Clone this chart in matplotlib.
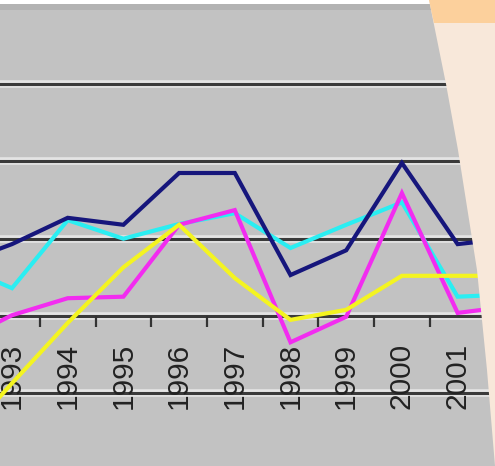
import numpy as np
import matplotlib
matplotlib.use('Agg')
from matplotlib import pyplot as plt
from matplotlib.patches import Polygon

years = [1992, 1993, 1994, 1995, 1996, 1997, 1998, 1999, 2000, 2001, 2002]
tick_years = [1993, 1994, 1995, 1996, 1997, 1998, 1999, 2000, 2001]

navy = [6.6, 9.3, 12.7, 11.8, 18.5, 18.5, 5.3, 8.5, 19.8, 9.3, 10.1]
cyan = [6.7, 3.6, 12.4, 10.0, 11.9, 13.3, 8.8, 11.8, 14.7, 2.5, 2.8]
magenta = [-3.5, 0.1, 2.3, 2.5, 11.8, 13.7, -3.4, -0.1, 15.9, 0.4, 1.3]
yellow = [-16.7, -8.7, -0.9, 6.3, 11.8, 4.9, -0.5, 0.8, 5.2, 5.2, 5.2]

W, H = 495, 466
fig = plt.figure(figsize=(W / 100, H / 100), dpi=100)
fig.patch.set_facecolor('white')
ax = fig.add_axes([0, 0, 1, 1])
ax.set_facecolor('#c2c2c2')
for s in ax.spines.values():
    s.set_visible(False)
ax.set_xticks([])
ax.set_yticks([])

# value axis: 10 units per gridline, 77.3 px apart, zero line at 316 px
ppu = 7.73
ax.set_ylim((316 - H) / ppu, 316 / ppu)
# category axis: 55.7 px per year, 1993 at 12 px
ax.set_xlim(1993 - 12 / 55.7, 1993 + (W - 12) / 55.7)

for g in [-10, 0, 10, 20, 30]:
    ax.axhline(g, color='#e4e4e4', lw=5.5, zorder=1)
    ax.axhline(g, color='#3a3a3a', lw=2.2, zorder=2)

# tick marks between categories
ax.vlines(np.array(tick_years[:-1]) + 0.5, -1.4, 0, color='#333333', lw=1.6, zorder=2)

for yr in tick_years:
    ax.text(yr, -3.5, str(yr), rotation=90, ha='center', va='top',
            fontsize=21.5, family='Liberation Sans', color='#222222', zorder=3)

ax.plot(years, navy, color='#16167c', lw=3, zorder=5, solid_joinstyle='miter')
ax.plot(years, cyan, color='#2aeef2', lw=3, zorder=4, solid_joinstyle='miter')
ax.plot(years, magenta, color='#f22cf0', lw=3, zorder=4, solid_joinstyle='miter')
ax.plot(years, yellow, color='#f4f420', lw=3, zorder=4, solid_joinstyle='miter')


def px(points):
    return [(x / W, 1 - y / H) for x, y in points]


# white strip and shadow along the top edge
fig.add_artist(Polygon(px([(0, 0), (W, 0), (W, 4), (0, 4)]), closed=True,
                       transform=fig.transFigure, facecolor='white', edgecolor='none'))
fig.add_artist(Polygon(px([(0, 4), (W, 4), (W, 10), (0, 10)]), closed=True,
                       transform=fig.transFigure, facecolor='#adadad', edgecolor='none', alpha=0.7))

# callout panel on the right
fig.add_artist(Polygon(px([(429, 0), (W, 0), (W, H), (495, 466), (487, 370), (477, 270),
                           (458, 150), (446, 84)]), closed=True,
                       transform=fig.transFigure, facecolor='#f8e8da', edgecolor='none', zorder=10))
fig.add_artist(Polygon(px([(429, 0), (W, 0), (W, 23), (433.5, 23)]), closed=True,
                       transform=fig.transFigure, facecolor='#fcd09c', edgecolor='none', zorder=11))

fig.savefig('out.png', dpi=100)
